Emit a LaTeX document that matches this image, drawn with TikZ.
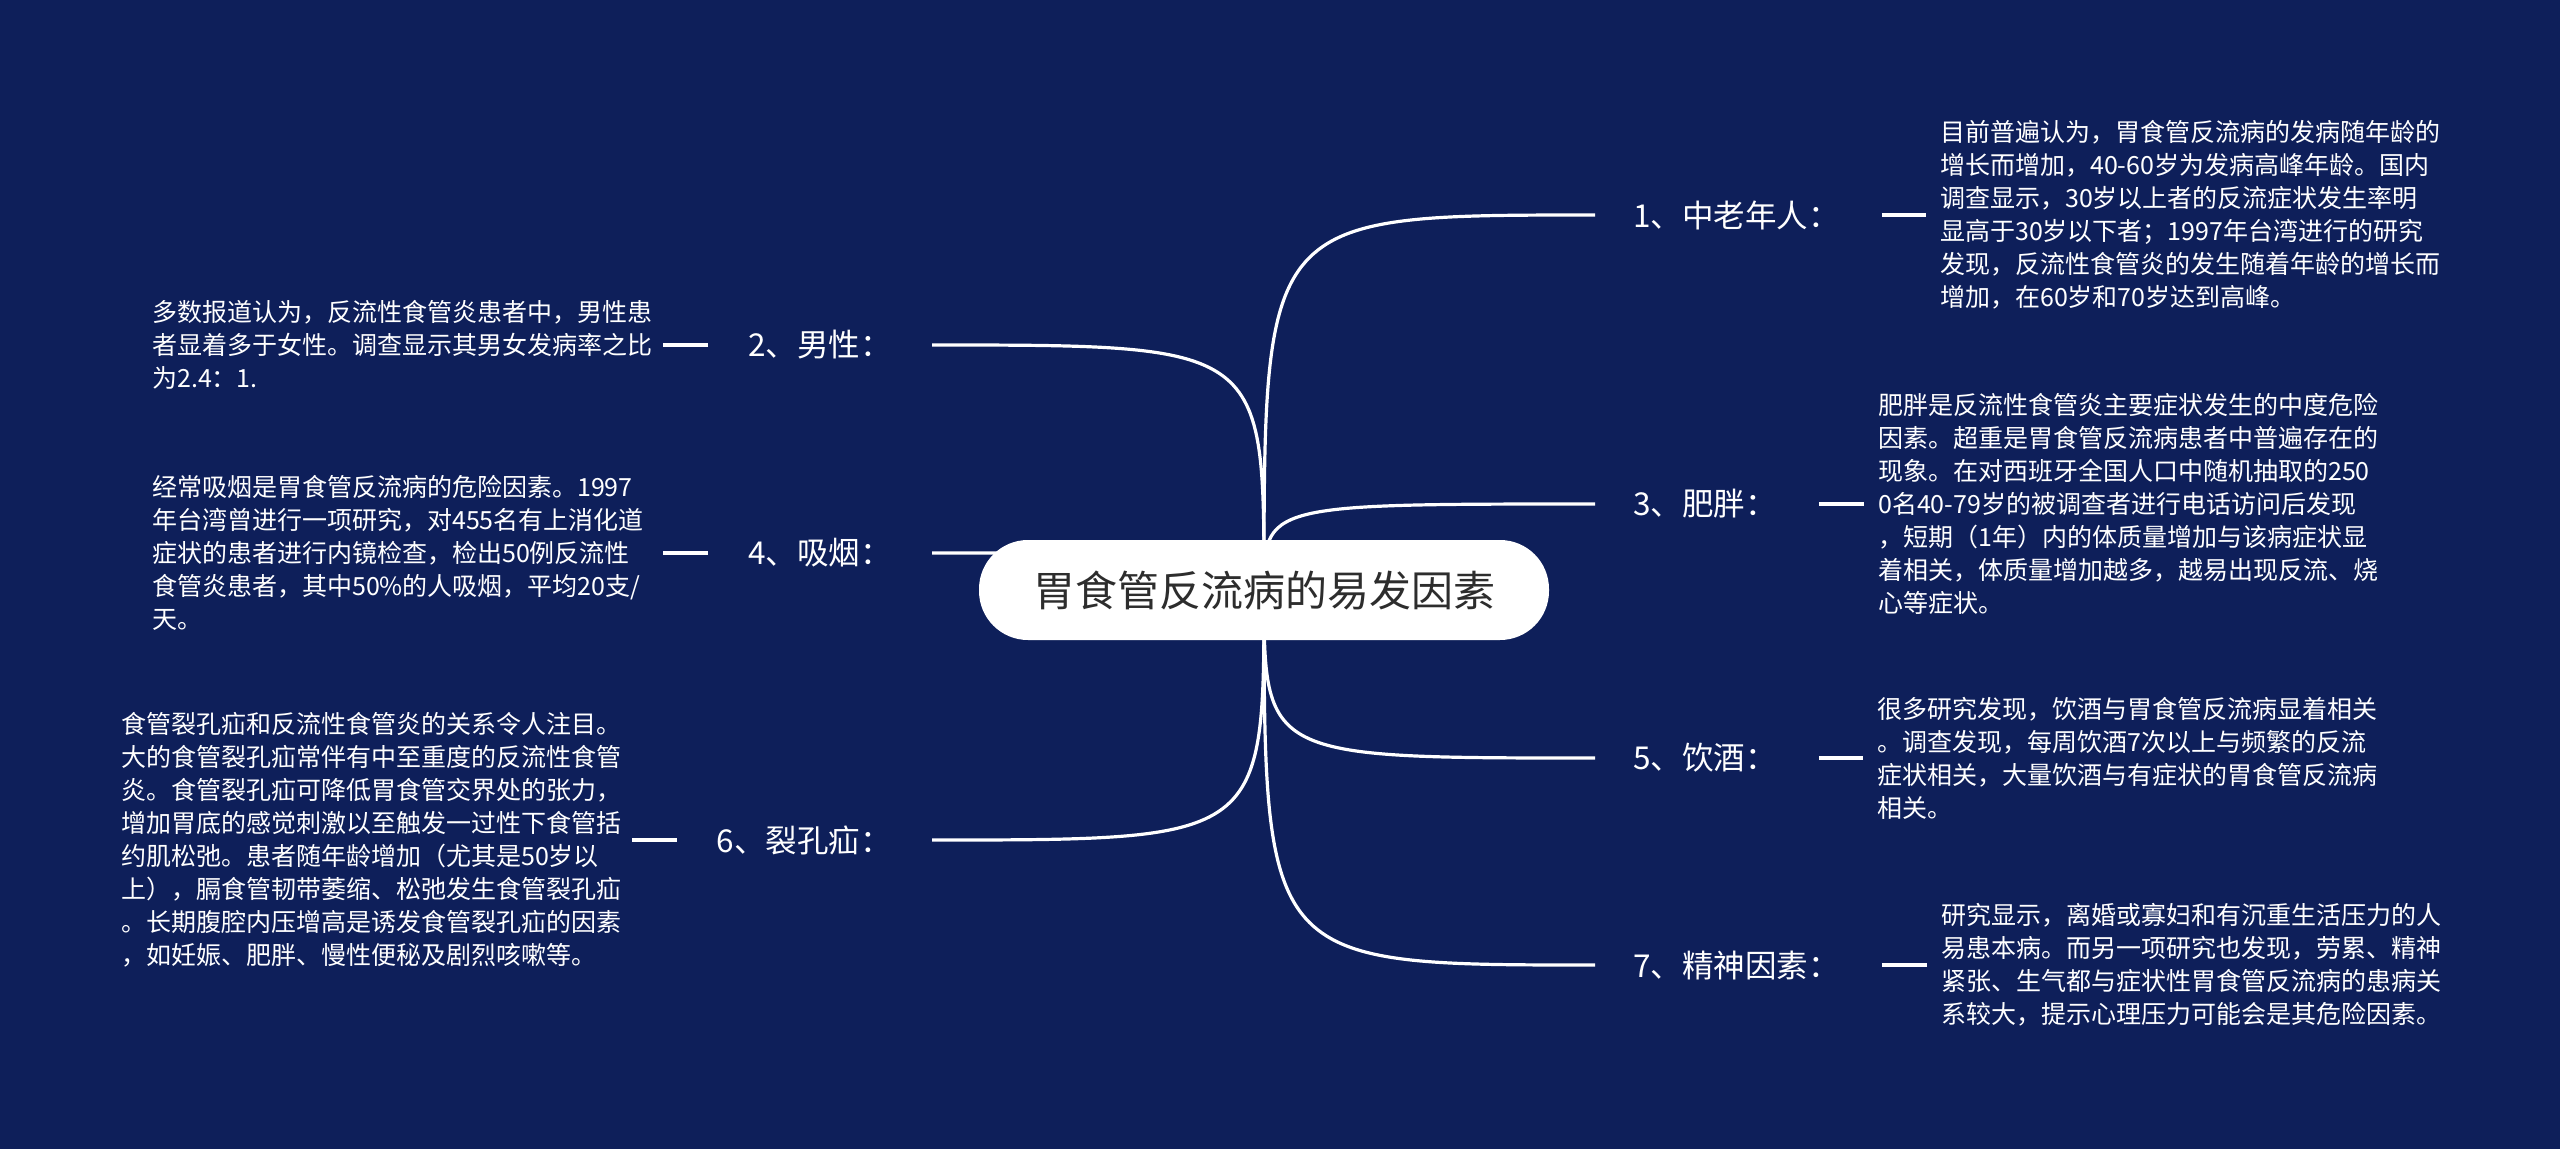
\documentclass[tikz,border=0pt]{standalone}
\usepackage{fontspec}
\setmainfont{Noto Sans CJK SC}
\definecolor{bgblue}{RGB}{14,31,90}
\definecolor{darktext}{RGB}{45,45,45}
\pgfdeclarelayer{bg}
\pgfdeclarelayer{links}
\pgfsetlayers{bg,links,main}
\begin{document}
\begin{tikzpicture}[x=1pt,y=-1pt,
  link/.style={draw=white,line width=3.2pt},
  lbl/.style={text=white,inner sep=0pt,font=\fontsize{31.5}{38}\selectfont},
  desc/.style={text=white,inner sep=0pt,text width=500pt,align=left,font=\fontsize{25}{33}\selectfont},
  rootbox/.style={fill=white,text=darktext,rounded corners=49pt,minimum width=570pt,minimum height=100pt,inner sep=0pt,font=\fontsize{42}{50}\selectfont}]

\useasboundingbox (0,0) rectangle (2560,1149);
\begin{pgfonlayer}{bg}
\fill[bgblue] (0,0) rectangle (2560,1149);
\end{pgfonlayer}

\node[rootbox] (root) at (1264,590) {胃食管反流病的易发因素};

% right side labels
\node[lbl,anchor=west] (l1) at (1633,215) {1、中老年人：};
\node[lbl,anchor=west] (l3) at (1633,504) {3、肥胖：};
\node[lbl,anchor=west] (l5) at (1633,758) {5、饮酒：};
\node[lbl,anchor=west] (l7) at (1633,965) {7、精神因素：};
% left side labels
\node[lbl,anchor=east] (l2) at (892,345) {2、男性：};
\node[lbl,anchor=east] (l4) at (892,553) {4、吸烟：};
\node[lbl,anchor=east] (l6) at (892,840) {6、裂孔疝：};

% right descriptions
\node[desc,anchor=west] (t1) at (1940,215) {目前普遍认为，胃食管反流病的发病随年龄的\\增长而增加，40-60岁为发病高峰年龄。国内\\调查显示，30岁以上者的反流症状发生率明\\显高于30岁以下者；1997年台湾进行的研究\\发现，反流性食管炎的发生随着年龄的增长而\\增加，在60岁和70岁达到高峰。};
\node[desc,anchor=west] (t3) at (1878,504) {肥胖是反流性食管炎主要症状发生的中度危险\\因素。超重是胃食管反流病患者中普遍存在的\\现象。在对西班牙全国人口中随机抽取的250\\0名40-79岁的被调查者进行电话访问后发现\\，短期（1年）内的体质量增加与该病症状显\\着相关，体质量增加越多，越易出现反流、烧\\心等症状。};
\node[desc,anchor=west] (t5) at (1877,758) {很多研究发现，饮酒与胃食管反流病显着相关\\。调查发现，每周饮酒7次以上与频繁的反流\\症状相关，大量饮酒与有症状的胃食管反流病\\相关。};
\node[desc,anchor=west] (t7) at (1941,965) {研究显示，离婚或寡妇和有沉重生活压力的人\\易患本病。而另一项研究也发现，劳累、精神\\紧张、生气都与症状性胃食管反流病的患病关\\系较大，提示心理压力可能会是其危险因素。};

% left descriptions
\node[desc,anchor=west] (t2) at (152,345) {多数报道认为，反流性食管炎患者中，男性患\\者显着多于女性。调查显示其男女发病率之比\\为2.4：1.};
\node[desc,anchor=west] (t4) at (152,553) {经常吸烟是胃食管反流病的危险因素。1997\\年台湾曾进行一项研究，对455名有上消化道\\症状的患者进行内镜检查，检出50例反流性\\食管炎患者，其中50\%的人吸烟，平均20支/\\天。};
\node[desc,anchor=west] (t6) at (121,840) {食管裂孔疝和反流性食管炎的关系令人注目。\\大的食管裂孔疝常伴有中至重度的反流性食管\\炎。食管裂孔疝可降低胃食管交界处的张力，\\增加胃底的感觉刺激以至触发一过性下食管括\\约肌松弛。患者随年龄增加（尤其是50岁以\\上），膈食管韧带萎缩、松弛发生食管裂孔疝\\。长期腹腔内压增高是诱发食管裂孔疝的因素\\，如妊娠、肥胖、慢性便秘及剧烈咳嗽等。};

% curves from root to labels (behind root)
\begin{pgfonlayer}{links}
\draw[link,shorten >=38pt] (root.center) .. controls (root.center |- l1.west) .. (l1.west);
\draw[link,shorten >=38pt] (root.center) .. controls (root.center |- l3.west) .. (l3.west);
\draw[link,shorten >=38pt] (root.center) .. controls (root.center |- l5.west) .. (l5.west);
\draw[link,shorten >=38pt] (root.center) .. controls (root.center |- l7.west) .. (l7.west);
\draw[link,shorten >=40pt] (root.center) .. controls (root.center |- l2.east) .. (l2.east);
\draw[link,shorten >=40pt] (root.center) .. controls (root.center |- l4.east) .. (l4.east);
\draw[link,shorten >=40pt] (root.center) .. controls (root.center |- l6.east) .. (l6.east);
\end{pgfonlayer}

% short connectors label -> description
\draw[link,shorten <=42pt,shorten >=14pt] (l1.east) -- (t1.west);
\draw[link,shorten <=42pt,shorten >=14pt] (l3.east) -- (t3.west);
\draw[link,shorten <=42pt,shorten >=14pt] (l5.east) -- (t5.west);
\draw[link,shorten <=42pt,shorten >=14pt] (l7.east) -- (t7.west);
\draw[link,shorten <=40pt,shorten >=11pt] (l2.west) -- (t2.east);
\draw[link,shorten <=40pt,shorten >=11pt] (l4.west) -- (t4.east);
\draw[link,shorten <=40pt,shorten >=11pt] (l6.west) -- (t6.east);
\end{tikzpicture}
\end{document}
